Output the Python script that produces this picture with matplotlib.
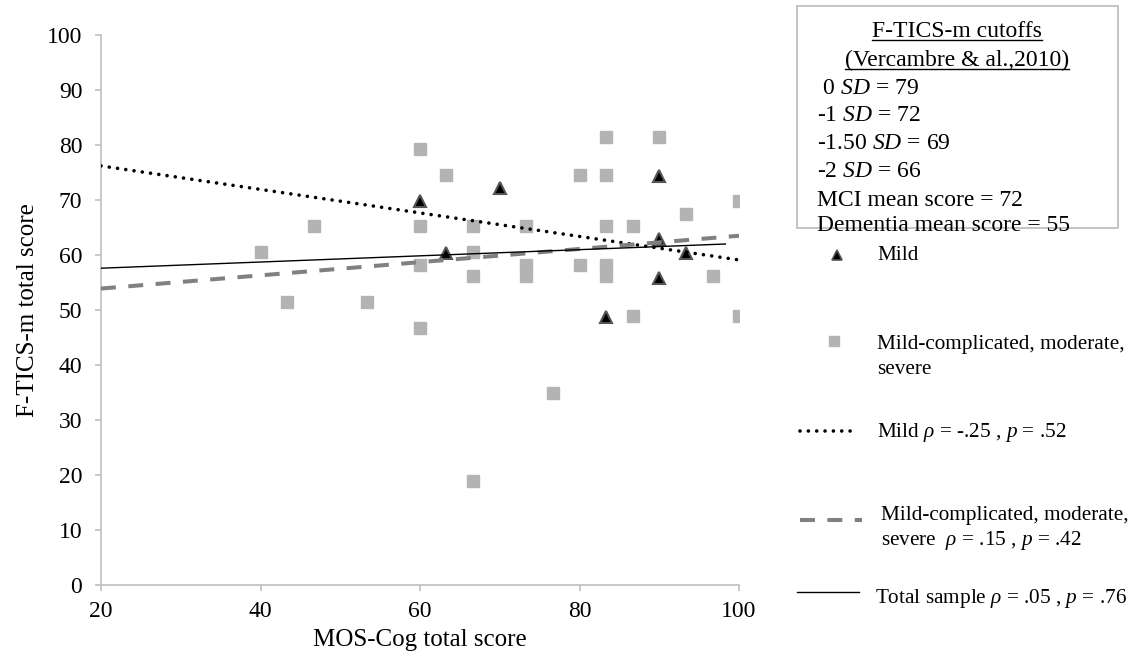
import numpy as np
import matplotlib
matplotlib.use('Agg')
import matplotlib.pyplot as plt
from matplotlib.lines import Line2D
from matplotlib.patches import Rectangle

plt.rcParams['font.family'] = ['Liberation Serif', 'DejaVu Serif']
plt.rcParams['mathtext.fontset'] = 'custom'
plt.rcParams['mathtext.rm'] = 'Liberation Serif'
plt.rcParams['mathtext.it'] = 'Liberation Serif:italic'

#%% data
mild_x = [60, 63.3, 70, 83.3, 90, 90, 90, 93.3]
mild_y = [69.9, 60.3, 72.1, 48.8, 74.4, 62.9, 55.9, 60.4]

mc_x = [40, 43.3, 46.7, 53.3, 60, 60, 60, 60, 63.3, 66.7, 66.7, 66.7, 66.7,
        73.3, 73.3, 73.3, 76.7, 80, 80, 83.3, 83.3, 83.3, 83.3, 83.3,
        86.7, 86.7, 90, 93.3, 96.7, 100, 100]
mc_y = [60.5, 51.5, 65.2, 51.5, 79.3, 65.2, 58.2, 46.7, 74.5, 65.2, 60.6, 56.1, 18.9,
        65.2, 58.2, 56.1, 35.0, 74.5, 58.2, 81.5, 74.5, 65.2, 58.2, 56.1,
        65.2, 49.0, 81.5, 67.5, 56.1, 69.9, 49.0]

# trend lines (end points)
mild_fit_x = [20, 100]
mild_fit_y = [76.2, 59.1]
mc_fit_x = [20, 100]
mc_fit_y = [53.9, 63.5]
tot_fit_x = [20, 98.3]
tot_fit_y = [57.6, 62.0]

box_lines = [' 0 $SD$ = 79', '-1 $SD$ = 72', '-1.50 $SD$ = 69', '-2 $SD$ = 66',
             'MCI mean score = 72', 'Dementia mean score = 55']

W, H = 1135, 666
fig = plt.figure(figsize=(W / 100, H / 100), dpi=100)
ax = fig.add_axes([101 / W, 1 - 585 / H, 638 / W, 550 / H])

def fx(px):
    return px / W

def fy(py):
    return 1 - py / H

sq_col = '#b3b3b3'
ax.plot(mc_x, mc_y, ls='none', marker='s', ms=8.8, color=sq_col, zorder=3)
ax.plot(mild_x, mild_y, ls='none', marker='^', ms=8.2, mfc='black', mec='#555555', mew=1.5, zorder=4)

dot_kw = dict(color='black', lw=2.6, ls=(0, (0.01, 2.3)), dash_capstyle='round')
dash_kw = dict(color='#808080', lw=2.9, ls=(0, (3.7, 3.1)))
sol_kw = dict(color='black', lw=1.0)
ax.plot(mild_fit_x, mild_fit_y, zorder=5, **dot_kw)
ax.plot(mc_fit_x, mc_fit_y, zorder=5, **dash_kw)
ax.plot(tot_fit_x, tot_fit_y, zorder=5, **sol_kw)

ax.set_xlim(20, 100)
ax.set_ylim(0, 100)
ax.set_xticks(np.arange(20, 101, 20))
ax.set_yticks(np.arange(0, 101, 10))
for s in ['top', 'right']:
    ax.spines[s].set_visible(False)
for s in ['left', 'bottom']:
    ax.spines[s].set_color('#bfbfbf')
    ax.spines[s].set_linewidth(1.2)
ax.tick_params(direction='out', length=4.5, width=1.2, color='#bfbfbf', labelsize=17)
ax.tick_params(axis='y', pad=9)
ax.tick_params(axis='x', pad=7)
ax.set_xlabel('MOS-Cog total score', fontsize=18, labelpad=5)
ax.set_ylabel('F-TICS-m total score', fontsize=18, labelpad=6)

# cutoff box
fig.patches.append(Rectangle((fx(797), fy(228)), fx(1118) - fx(797), fy(6) - fy(228),
                             transform=fig.transFigure, fill=False, ec='#bfbfbf', lw=1.3))
bfs = 17
t1 = fig.text(fx(957), fy(37.3), 'F-TICS-m cutoffs', ha='center', va='baseline', fontsize=bfs)
t2 = fig.text(fx(957), fy(66), '(Vercambre & al.,2010)', ha='center', va='baseline', fontsize=bfs)
base = [94, 121.3, 149.3, 176.7, 205.7, 230.7]
for txt, b in zip(box_lines, base):
    fig.text(fx(817), fy(b), txt, ha='left', va='baseline', fontsize=bfs)

# underline the two title lines
fig.canvas.draw()
for t, b in ((t1, 37.3), (t2, 66)):
    bb = t.get_window_extent()
    yb = fy(b + 2.5)
    fig.lines.append(Line2D([bb.x0 / W, bb.x1 / W], [yb, yb], transform=fig.transFigure,
                            color='black', lw=1.0))

# legend drawn by hand (entries are unevenly spaced in the original)
fs = 15.3
fig.lines.append(Line2D([fx(837)], [fy(255)], transform=fig.transFigure, ls='none',
                        marker='^', ms=7, mfc='black', mec='#555555', mew=1.2))
fig.text(fx(877), fy(260), 'Mild', va='baseline', fontsize=fs)
fig.lines.append(Line2D([fx(834)], [fy(341)], transform=fig.transFigure, ls='none',
                        marker='s', ms=7.5, color=sq_col))
fig.text(fx(877), fy(349), 'Mild-complicated, moderate,', va='baseline', fontsize=fs)
fig.text(fx(877), fy(374), 'severe', va='baseline', fontsize=fs)
fig.lines.append(Line2D([fx(800), fx(855)], [fy(431), fy(431)], transform=fig.transFigure, **dot_kw))
fig.text(fx(877), fy(436.7), r'Mild $\rho$ = -.25 , $p$ = .52', va='baseline', fontsize=fs)
fig.lines.append(Line2D([fx(800), fx(862)], [fy(520), fy(520)], transform=fig.transFigure, **dash_kw))
fig.text(fx(881), fy(520), 'Mild-complicated, moderate,', va='baseline', fontsize=fs)
fig.text(fx(881), fy(545), r'severe  $\rho$ = .15 , $p$ = .42', va='baseline', fontsize=fs)
fig.lines.append(Line2D([fx(797), fx(859)], [fy(592), fy(592)], transform=fig.transFigure, **sol_kw))
fig.text(fx(875), fy(603.3), r'Total sample $\rho$ = .05 , $p$ = .76', va='baseline', fontsize=fs)

fig.savefig('out.png', dpi=100)
